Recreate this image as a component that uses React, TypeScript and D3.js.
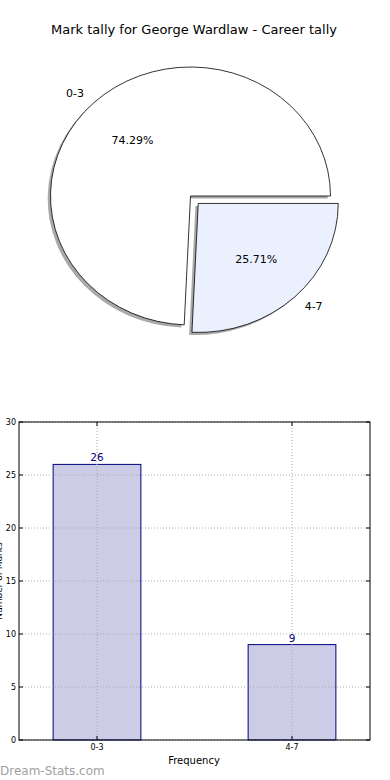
import React, { useEffect, useRef } from "react";
import * as d3 from "d3";

const title = "Mark tally for George Wardlaw - Career tally";
const categories = ["0-3", "4-7"];
const counts = [26, 9];
const explodes = [0, 0.08];
const pieColors = ["#ffffff", "#eaf0fd"];
const yTicks = [0, 5, 10, 15, 20, 25, 30];
const xLabel = "Frequency";
const yLabel = "Number of Marks";
const watermark = "Dream-Stats.com";

const W = 390, H = 780;
const font = "'DejaVu Sans', sans-serif";

export default function App() {
  const ref = useRef<SVGSVGElement | null>(null);

  useEffect(() => {
    document.body.style.margin = "0";
    const svg = d3.select(ref.current);
    svg.selectAll("*").remove();

    // title
    svg.append("text")
      .attr("x", 194).attr("y", 34)
      .attr("text-anchor", "middle")
      .style("font-family", font).style("font-size", "13px")
      .text(title);

    // ---- pie ----
    const cx = 190.5, cy = 196, rx = 140, ry = 129;
    const total = d3.sum(counts);
    const pie = d3.pie<number>().sort(null)
      .startAngle(Math.PI / 2).endAngle(Math.PI / 2 - 2 * Math.PI);
    const arcs = pie(counts);
    const arc = d3.arc<d3.PieArcDatum<number>>().innerRadius(0).outerRadius(1);

    const pg = svg.append("g");
    const mid = (d: d3.PieArcDatum<number>) => (d.startAngle + d.endAngle) / 2;
    const pos = (a: number, r: number, off: number) => [
      cx + rx * Math.sin(a) * (r + off),
      cy - ry * Math.cos(a) * (r + off),
    ];

    // shadows
    arcs.forEach((d, i) => {
      const [ox, oy] = pos(mid(d), 0, explodes[i]);
      pg.append("path")
        .attr("d", arc(d))
        .attr("transform", `translate(${ox - 2.8},${oy + 2.6}) scale(${rx},${ry})`)
        .attr("fill", "#8c8c8c").attr("opacity", 0.75);
    });
    arcs.forEach((d, i) => {
      const [ox, oy] = pos(mid(d), 0, explodes[i]);
      pg.append("path")
        .attr("d", arc(d))
        .attr("transform", `translate(${ox},${oy}) scale(${rx},${ry})`)
        .attr("fill", pieColors[i])
        .attr("stroke", "#000").attr("stroke-width", 0.8)
        .attr("vector-effect", "non-scaling-stroke");
    });
    arcs.forEach((d, i) => {
      const a = mid(d);
      const [lx, ly] = pos(a, 1.1, explodes[i]);
      pg.append("text")
        .attr("x", lx).attr("y", ly)
        .attr("dy", "0.35em")
        .attr("text-anchor", Math.sin(a) < 0 ? "end" : "start")
        .style("font-family", font).style("font-size", "11px")
        .text(categories[i]);
      const [px, py] = pos(a, 0.6, explodes[i]);
      pg.append("text")
        .attr("x", px).attr("y", py)
        .attr("dy", "0.35em")
        .attr("text-anchor", "middle")
        .style("font-family", font).style("font-size", "11px")
        .text(((counts[i] / total) * 100).toFixed(2) + "%");
    });

    // ---- bar chart ----
    const left = 19, right = 370, top = 422, bottom = 740;
    const x = d3.scaleLinear().domain([-0.4, 1.4]).range([left, right]);
    const y = d3.scaleLinear().domain([0, 30]).range([bottom, top]);
    const bw = 0.45;
    const bg = svg.append("g");

    bg.selectAll(".bar").data(counts).enter().append("rect")
      .attr("x", (_d, i) => x(i - bw / 2))
      .attr("width", x(bw) - x(0))
      .attr("y", (d) => y(d))
      .attr("height", (d) => bottom - y(d))
      .attr("fill", "#cccce6")
      .attr("stroke", "#000080").attr("stroke-width", 1);

    // grid on top of bars
    bg.selectAll(".gy").data(yTicks).enter().append("line")
      .attr("x1", left).attr("x2", right)
      .attr("y1", (d) => y(d)).attr("y2", (d) => y(d))
      .attr("stroke", "#aaa").attr("stroke-width", 1).attr("stroke-dasharray", "1,2");
    bg.selectAll(".gx").data(categories).enter().append("line")
      .attr("x1", (_d, i) => x(i)).attr("x2", (_d, i) => x(i))
      .attr("y1", top).attr("y2", bottom)
      .attr("stroke", "#aaa").attr("stroke-width", 1).attr("stroke-dasharray", "1,2");

    bg.selectAll(".val").data(counts).enter().append("text")
      .attr("x", (_d, i) => x(i))
      .attr("y", (d) => y(d) - 3)
      .attr("text-anchor", "middle")
      .style("font-family", font).style("font-size", "10.5px")
      .attr("fill", "#000080")
      .text((d) => d);

    // frame
    bg.append("rect")
      .attr("x", left).attr("y", top)
      .attr("width", right - left).attr("height", bottom - top)
      .attr("fill", "none").attr("stroke", "#000").attr("stroke-width", 1);

    // ticks
    yTicks.forEach((t) => {
      bg.append("line").attr("x1", left).attr("x2", left + 4)
        .attr("y1", y(t)).attr("y2", y(t)).attr("stroke", "#000");
      bg.append("line").attr("x1", right).attr("x2", right - 4)
        .attr("y1", y(t)).attr("y2", y(t)).attr("stroke", "#000");
      bg.append("text")
        .attr("x", left - 3).attr("y", y(t))
        .attr("dy", "0.35em").attr("text-anchor", "end")
        .style("font-family", font).style("font-size", "8px")
        .text(t);
    });
    categories.forEach((c, i) => {
      bg.append("line").attr("x1", x(i)).attr("x2", x(i))
        .attr("y1", bottom).attr("y2", bottom - 4).attr("stroke", "#000");
      bg.append("line").attr("x1", x(i)).attr("x2", x(i))
        .attr("y1", top).attr("y2", top + 4).attr("stroke", "#000");
      bg.append("text")
        .attr("x", x(i)).attr("y", bottom + 10)
        .attr("text-anchor", "middle")
        .style("font-family", font).style("font-size", "8px")
        .text(c);
    });

    bg.append("text")
      .attr("x", 194).attr("y", 764)
      .attr("text-anchor", "middle")
      .style("font-family", font).style("font-size", "10px")
      .text(xLabel);

    bg.append("text")
      .attr("transform", `translate(2,${(top + bottom) / 2}) rotate(-90)`)
      .attr("text-anchor", "middle")
      .style("font-family", font).style("font-size", "9px")
      .text(yLabel);

    svg.append("text")
      .attr("x", 0).attr("y", 775)
      .style("font-family", font).style("font-size", "12px")
      .attr("fill", "#a0a0a0")
      .text(watermark);
  }, []);

  return <svg ref={ref} width={W} height={H} style={{ display: "block", background: "#fff" }} />;
}
